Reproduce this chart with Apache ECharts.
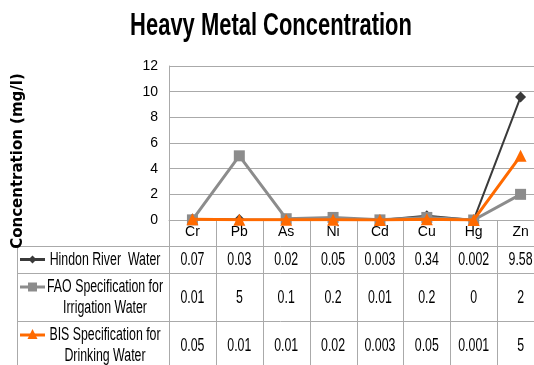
<!DOCTYPE html>
<html><head><meta charset="utf-8">
<script src="https://cdn.jsdelivr.net/npm/echarts@6/dist/echarts.min.js"></script>
<style>html,body{margin:0;padding:0;background:#fff;overflow:hidden;width:534px;height:365px}#c{width:544px;height:365px}</style>
</head><body><div id="c"></div>
<script>
const categories = ['Cr','Pb','As','Ni','Cd','Cu','Hg','Zn'];
const hindon = [0.07, 0.03, 0.02, 0.05, 0.003, 0.34, 0.002, 9.58];
const fao    = [0.01, 5, 0.1, 0.2, 0.01, 0.2, 0, 2];
const bis    = [0.05, 0.01, 0.01, 0.02, 0.003, 0.05, 0.001, 5];
const seriesNames = ['Hindon River  Water', 'FAO Specification for\nIrrigation Water', 'BIS Specification for\nDrinking Water'];
const seriesColors = ['#3a3a3a', '#8c8c8c', '#ff6a00'];
const seriesSymbols = ['diamond', 'rect', 'triangle'];
const yMin = 0, yMax = 12, yStep = 2;
const titleText = 'Heavy Metal Concentration';
const yTitle = 'Concentration (mg/l)';

const SANS = '"Liberation Sans",Arial,sans-serif';
const SQ = 0.686; // horizontal squeeze of the original's text
const G = {left: 169, top: 66, width: 375, height: 154};
const rowEdges = [246, 273, 321, 369];
const tableLeft = 17;
const lineColor = '#aaaaaa';

const chart = echarts.init(document.getElementById('c'), null, {renderer: 'canvas'});
const seriesData = [hindon, fao, bis];
const series = seriesData.map((d, i) => ({
  name: seriesNames[i], type: 'line', data: d,
  symbol: seriesSymbols[i], symbolSize: i === 0 ? 11 : (i === 1 ? 11 : 12),
  lineStyle: {color: seriesColors[i], width: i === 0 ? 2 : 3},
  itemStyle: {color: seriesColors[i]},
  z: 2 + i, animation: false
}));
chart.setOption({
  animation: false,
  grid: {left: G.left, top: G.top, width: G.width, height: G.height, containLabel: false},
  xAxis: {type: 'category', data: categories, boundaryGap: true,
    axisLine: {show: true, lineStyle: {color: lineColor}}, axisTick: {show: false},
    axisLabel: {fontFamily: SANS, fontSize: 14, color: '#000', margin: 5, interval: 0}},
  yAxis: {type: 'value', min: yMin, max: yMax, interval: yStep,
    axisLine: {show: true, lineStyle: {color: lineColor}}, axisTick: {show: false},
    splitLine: {lineStyle: {color: lineColor}},
    axisLabel: {fontFamily: SANS, fontSize: 14, color: '#000', margin: 11}},
  series: series
});

const g = [];
g.push({type: 'text', x: 271, y: 26, scaleX: SQ,
  style: {text: titleText, fontFamily: SANS, fontWeight: 'bold', fontSize: 32, fill: '#000', textAlign: 'center', textVerticalAlign: 'middle'}});
// data table built from the arrays, columns located through the category axis
const bottom = G.top + G.height;
const colW = G.width / categories.length;
for (let i = 0; i <= categories.length; i++) {
  const x = Math.round(chart.convertToPixel({xAxisIndex: 0}, 0) - colW / 2 + i * colW) + 0.5;
  g.push({type: 'line', shape: {x1: x, y1: bottom, x2: x, y2: rowEdges[3]}, style: {stroke: lineColor, lineWidth: 1}});
}
g.push({type: 'line', shape: {x1: tableLeft + 0.5, y1: rowEdges[0], x2: tableLeft + 0.5, y2: rowEdges[3]}, style: {stroke: lineColor, lineWidth: 1}});
for (let r = 0; r < 3; r++) {
  const y = rowEdges[r] + 0.5;
  g.push({type: 'line', shape: {x1: tableLeft, y1: y, x2: G.left + G.width, y2: y}, style: {stroke: lineColor, lineWidth: 1}});
}
seriesData.forEach((d, r) => {
  const cy = (rowEdges[r] + rowEdges[r + 1]) / 2;
  d.forEach((v, i) => {
    const cx = chart.convertToPixel({xAxisIndex: 0}, i);
    g.push({type: 'text', x: cx, y: cy + 1, scaleX: SQ, style: {text: String(v), fontFamily: SANS, fontSize: 18, fill: '#000', textAlign: 'center', textVerticalAlign: 'middle'}});
  });
  const ky = r === 0 ? cy : cy - 10;
  g.push({type: 'line', shape: {x1: 20, y1: ky, x2: 45, y2: ky}, style: {stroke: seriesColors[r], lineWidth: 3}});
  const mx = 32.5;
  if (r === 0) g.push({type: 'polygon', shape: {points: [[mx, ky - 4], [mx + 4, ky], [mx, ky + 4], [mx - 4, ky]]}, style: {fill: seriesColors[r]}});
  if (r === 1) g.push({type: 'rect', shape: {x: mx - 4.5, y: ky - 4.5, width: 9, height: 9}, style: {fill: seriesColors[r]}});
  if (r === 2) g.push({type: 'polygon', shape: {points: [[mx, ky - 6], [mx + 5, ky + 4], [mx - 5, ky + 4]]}, style: {fill: seriesColors[r]}});
  g.push({type: 'text', x: 105, y: cy + 1, scaleX: SQ, style: {text: seriesNames[r], fontFamily: SANS, fontSize: 18, lineHeight: 21, fill: '#000', textAlign: 'center', textVerticalAlign: 'middle'}});
});
g.push({type: 'text', x: 18, y: 161, rotation: Math.PI / 2,
  style: {text: yTitle, fontFamily: '"DejaVu Sans",sans-serif', fontWeight: 'bold', fontSize: 15, fill: '#000', textAlign: 'center', textVerticalAlign: 'middle'}});
chart.setOption({graphic: g});
</script></body></html>
